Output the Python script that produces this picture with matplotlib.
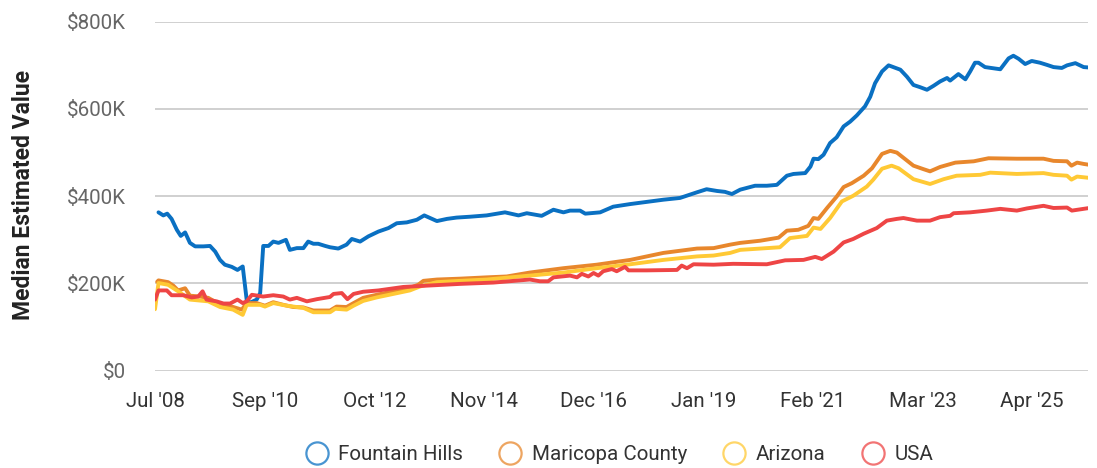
import numpy as np
import matplotlib.pyplot as plt
from matplotlib.lines import Line2D

plt.rcParams['font.family'] = ['Roboto', 'DejaVu Sans']

# x = months since Jul 2008, values in $K
fh_month = [0.8, 1.9, 2.8, 3.8, 5.0, 5.9, 6.9, 8.0, 9.2, 11.1,
            12.6, 13.8, 14.9, 16.0, 17.6, 18.9, 20.1, 21.0, 21.8, 23.3,
            24.1, 24.8, 26.0, 27.1, 28.3, 30.0, 30.9, 32.5, 34.0, 35.1,
            36.3, 37.4, 39.0, 40.1, 42.0, 43.9, 45.1, 47.0, 48.9, 51.2,
            53.5, 55.4, 57.7, 60.0, 61.7, 64.6, 66.9, 69.1, 72.2, 76.0,
            80.2, 83.3, 85.2, 88.6, 91.3, 93.6, 95.1, 97.4, 98.6, 102.0,
            105.0, 108.9, 112.7, 116.5, 120.3, 124.2, 126.4, 128.8, 130.6, 132.2,
            134.1, 137.5, 140.2, 142.5, 144.8, 146.3, 149.0, 150.2, 150.9, 152.0,
            153.2, 154.7, 156.2, 157.8, 159.3, 160.8, 162.7, 163.9, 165.0, 166.6,
            168.1, 170.8, 172.3, 173.8, 175.3, 176.9, 178.4, 179.9, 181.5, 182.2,
            184.1, 185.7, 186.8, 187.9, 188.7, 190.2, 193.7, 195.6, 196.7, 197.9,
            199.4, 200.9, 202.8, 204.4, 205.9, 207.8, 209.0, 210.9, 212.8, 214.1]
fh_value = [363, 356, 360, 348, 323, 309, 317, 293, 285, 285,
            286, 273, 254, 243, 238, 231, 239, 163, 156, 163,
            178, 286, 286, 296, 293, 300, 277, 281, 281, 296,
            291, 291, 286, 283, 280, 289, 302, 296, 308, 319,
            327, 338, 340, 346, 356, 343, 348, 351, 353, 356,
            363, 356, 361, 355, 369, 363, 367, 367, 360, 363,
            376, 382, 387, 392, 396, 409, 416, 412, 410, 405,
            415, 424, 424, 426, 447, 451, 453, 468, 486, 485,
            495, 522, 535, 560, 571, 585, 606, 628, 659, 686,
            700, 690, 674, 655, 650, 644, 653, 663, 671, 665,
            680, 668, 686, 706, 706, 696, 691, 716, 722, 715,
            703, 710, 706, 701, 696, 694, 700, 705, 696, 695]

mc_month = [0.5, 0.8, 3.0, 4.2, 5.3, 6.9, 8.0, 10.3, 12.2, 14.5,
            17.6, 19.9, 21.0, 23.3, 25.2, 27.1, 29.4, 31.7, 34.0, 36.3,
            40.1, 41.6, 43.9, 45.5, 47.7, 50.8, 54.6, 58.4, 60.3, 61.5,
            64.6, 69.9, 76.0, 80.6, 85.9, 93.6, 101.2, 108.9, 116.5, 124.2,
            128.0, 131.8, 134.1, 138.7, 142.9, 144.8, 147.4, 149.7, 150.9, 152.0,
            154.0, 156.2, 157.8, 159.7, 162.4, 164.3, 166.6, 168.5, 170.0, 171.9,
            173.8, 176.1, 177.6, 179.9, 183.4, 187.6, 191.0, 197.5, 203.6, 205.9,
            209.0, 210.0, 211.3, 212.8, 214.1]
mc_value = [204, 207, 203, 195, 184, 189, 172, 170, 167, 154,
            147, 140, 155, 155, 149, 157, 151, 146, 145, 138,
            138, 147, 146, 155, 167, 174, 182, 190, 197, 206,
            209, 211, 214, 216, 225, 235, 243, 254, 270, 280,
            281, 289, 293, 298, 305, 321, 323, 332, 350, 348,
            373, 399, 421, 430, 447, 464, 497, 504, 500, 485,
            470, 462, 457, 467, 477, 480, 487, 486, 486, 481,
            480, 470, 477, 474, 472]

az_month = [0.0, 0.8, 3.0, 5.3, 8.0, 12.2, 14.9, 17.9, 20.1, 21.0,
            24.1, 25.2, 27.1, 30.2, 34.0, 36.3, 40.1, 41.3, 43.9, 45.5,
            47.7, 50.8, 54.6, 58.4, 60.7, 64.6, 70.0, 76.0, 85.9, 93.6,
            101.2, 108.9, 116.5, 124.2, 128.0, 131.8, 134.1, 138.7, 143.2, 145.5,
            149.4, 150.9, 152.5, 154.7, 157.4, 160.0, 163.1, 164.6, 166.6, 168.8,
            170.4, 173.8, 177.6, 180.7, 183.7, 189.1, 191.4, 197.5, 203.6, 205.9,
            209.0, 210.0, 211.3, 214.1]
az_value = [141, 201, 197, 182, 163, 159, 146, 140, 128, 151,
            151, 147, 155, 149, 144, 134, 134, 142, 140, 149,
            160, 168, 176, 184, 193, 203, 206, 209, 218, 225,
            235, 244, 254, 262, 264, 270, 277, 280, 283, 304,
            309, 328, 325, 350, 388, 401, 422, 438, 463, 470,
            464, 439, 428, 439, 447, 449, 454, 451, 453, 449,
            447, 438, 445, 442]

us_month = [0.0, 0.8, 2.7, 3.8, 6.5, 8.4, 9.9, 10.9, 11.8, 14.1,
            15.7, 17.2, 18.9, 20.1, 21.0, 22.2, 24.8, 27.1, 29.4, 30.9,
            32.5, 34.8, 37.1, 40.1, 40.9, 42.8, 44.1, 45.5, 47.7, 51.2,
            56.9, 62.3, 69.9, 77.5, 85.9, 88.2, 90.1, 91.3, 95.1, 96.7,
            97.8, 99.3, 100.5, 101.6, 102.7, 104.7, 105.8, 107.7, 108.5, 112.7,
            119.6, 120.7, 121.9, 123.4, 128.0, 132.5, 140.2, 144.4, 148.6, 151.3,
            152.8, 155.5, 157.8, 160.0, 162.4, 165.4, 167.7, 170.0, 171.5, 174.6,
            177.6, 179.9, 182.2, 183.0, 186.8, 190.6, 193.7, 197.5, 199.8, 203.6,
            205.9, 209.0, 210.1, 214.1]
us_value = [163, 184, 184, 173, 173, 168, 170, 182, 163, 159,
            154, 154, 163, 155, 159, 174, 170, 173, 170, 163,
            167, 159, 164, 169, 176, 178, 164, 176, 181, 184,
            192, 195, 199, 202, 209, 205, 205, 214, 218, 214,
            222, 216, 224, 218, 228, 233, 228, 238, 230, 230,
            231, 241, 235, 244, 243, 245, 244, 253, 254, 261,
            256, 273, 294, 302, 314, 327, 344, 348, 350, 344,
            344, 352, 355, 361, 363, 367, 371, 367, 372, 378,
            373, 374, 367, 373]

series_names = ["Fountain Hills", "Maricopa County", "Arizona", "USA"]
colors = ["#0A70C2", "#E8872C", "#FFC935", "#EE4545"]

x_labels = ["Jul '08", "Sep '10", "Oct '12", "Nov '14", "Dec '16",
            "Jan '19", "Feb '21", "Mar '23", "Apr '25"]
y_ticks = [0, 200, 400, 600, 800]
y_labels = ["$0", "$200K", "$400K", "$600K", "$800K"]

fig = plt.figure(figsize=(10.97, 4.68), dpi=100)
ax = fig.add_axes([0.1413, 0.2079, 0.8505, 0.7457])

data = [(fh_month, fh_value), (mc_month, mc_value),
        (az_month, az_value), (us_month, us_value)]
for i, (m, v) in enumerate(data):
    ax.plot(m, v, color=colors[i], lw=2.8, solid_joinstyle='round',
            solid_capstyle='round', zorder=3 + i)

ax.set_xlim(0, 213.8)
ax.set_ylim(0, 800)
ax.set_xticks(np.arange(9) * 201 / 8)
ax.set_xticklabels(x_labels, fontsize=14.8, color="#333333")
ax.set_yticks(y_ticks)
ax.set_yticklabels(y_labels, fontsize=14.8, color="#666666")
ax.tick_params(axis='both', length=0)
ax.tick_params(axis='x', pad=15)
ax.tick_params(axis='y', pad=21)
ax.grid(axis='y', color="#c8c8c8", lw=1.2)
ax.set_axisbelow(True)
for s in ax.spines.values():
    s.set_visible(False)

fig.text(0.021, 0.583, "Median Estimated Value", rotation=90, fontsize=16.5,
         fontweight='bold', color="#222222", ha='center', va='center')

handles = [Line2D([], [], ls='none', marker='o', markersize=16,
                  markerfacecolor='none', markeredgecolor=c, markeredgewidth=1.6,
                  alpha=0.75) for c in colors]
fig.legend(handles, series_names, loc='center', ncol=4, frameon=False,
           bbox_to_anchor=(0.564, 1 - 455 / 468), fontsize=14.8,
           labelcolor="#333333", handletextpad=0.45, columnspacing=1.69,
           handlelength=1.2)

fig.savefig("out.png", dpi=100)
